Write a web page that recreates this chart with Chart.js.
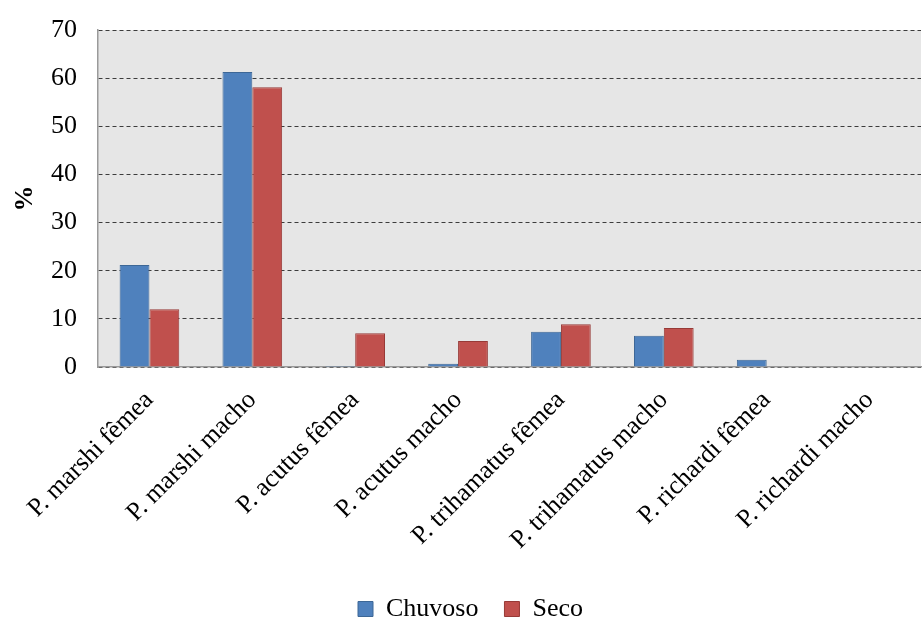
<!DOCTYPE html>
<html>
<head>
<meta charset="utf-8">
<script src="https://cdn.jsdelivr.net/npm/chart.js@4"></script>
<style>
  html, body { margin: 0; padding: 0; background: #ffffff; }
  #wrap { width: 922px; height: 619px; position: relative; }
</style>
</head>
<body>
<div id="wrap"><canvas id="c" width="922" height="619"></canvas></div>
<script>
// Categories (species / sex) and the percentage per season
const categories = [
  'P. marshi fêmea', 'P. marshi macho', 'P. acutus fêmea', 'P. acutus macho',
  'P. trihamatus fêmea', 'P. trihamatus macho', 'P. richardi fêmea', 'P. richardi macho'
];
const chuvoso = [21.2, 61.3, 0.2, 0.7, 7.3, 6.5, 1.5, 0];
const seco = [12.0, 58.1, 7.0, 5.4, 8.9, 8.1, 0, 0];
const yTicks = [0, 10, 20, 30, 40, 50, 60, 70];

const serif = "'Liberation Serif', 'Times New Roman', serif";
const fontSize = 26;

// Grey plot-area fill behind the bars
const plotBackground = {
  id: 'plotBackground',
  beforeDraw(chart) {
    const { ctx, chartArea: a } = chart;
    ctx.save();
    ctx.fillStyle = '#e6e6e6';
    ctx.fillRect(a.left, a.top, a.right - a.left, a.bottom - a.top);
    ctx.restore();
  }
};

// Nudge the legend a little to the right of the canvas centre
const legendNudge = {
  id: 'legendNudge',
  afterLayout(chart) {
    if (chart.legend) {
      chart.legend.left += 10;
      chart.legend.right += 10;
    }
  }
};

new Chart(document.getElementById('c'), {
  type: 'bar',
  data: {
    labels: categories,
    datasets: [
      {
        label: 'Chuvoso',
        data: chuvoso,
        backgroundColor: '#4f81bd',
        borderColor: '#3d6796',
        borderWidth: 1,
        categoryPercentage: 0.58,
        barPercentage: 1.0
      },
      {
        label: 'Seco',
        data: seco,
        backgroundColor: '#c0504d',
        borderColor: '#973a37',
        borderWidth: 1,
        categoryPercentage: 0.58,
        barPercentage: 1.0
      }
    ]
  },
  options: {
    responsive: false,
    animation: false,
    layout: { padding: { top: 30, right: 1, left: 0, bottom: -13 } },
    plugins: {
      legend: {
        position: 'bottom',
        labels: {
          font: { family: serif, size: fontSize },
          color: '#000',
          boxWidth: 15,
          boxHeight: 15,
          padding: 26
        }
      },
      tooltip: { enabled: false }
    },
    scales: {
      x: {
        grid: { display: false, drawTicks: false },
        border: { color: '#9a9a9a', width: 1.5 },
        ticks: {
          font: { family: serif, size: fontSize },
          color: '#000',
          maxRotation: 45,
          minRotation: 45,
          autoSkip: false,
          padding: 18
        },
        afterFit(scale) { scale.height = 203; }
      },
      y: {
        min: 0,
        max: 70,
        afterBuildTicks(scale) { scale.ticks = yTicks.map(v => ({ value: v })); },
        grid: {
          color: '#3c3c3c',
          lineWidth: 1,
          drawTicks: false
        },
        border: { color: '#9a9a9a', width: 1.5, dash: [4, 3] },
        ticks: {
          font: { family: serif, size: fontSize },
          color: '#000',
          padding: 21
        },
        title: {
          display: true,
          text: '%',
          font: { family: serif, size: fontSize, weight: 'bold' },
          color: '#000',
          padding: { top: 10, bottom: 0 }
        },
        afterFit(scale) {
          scale.width = 98;
          scale.paddingTop = 0;
          scale.paddingBottom = 0;
        }
      }
    }
  },
  plugins: [plotBackground, legendNudge]
});
</script>
</body>
</html>
